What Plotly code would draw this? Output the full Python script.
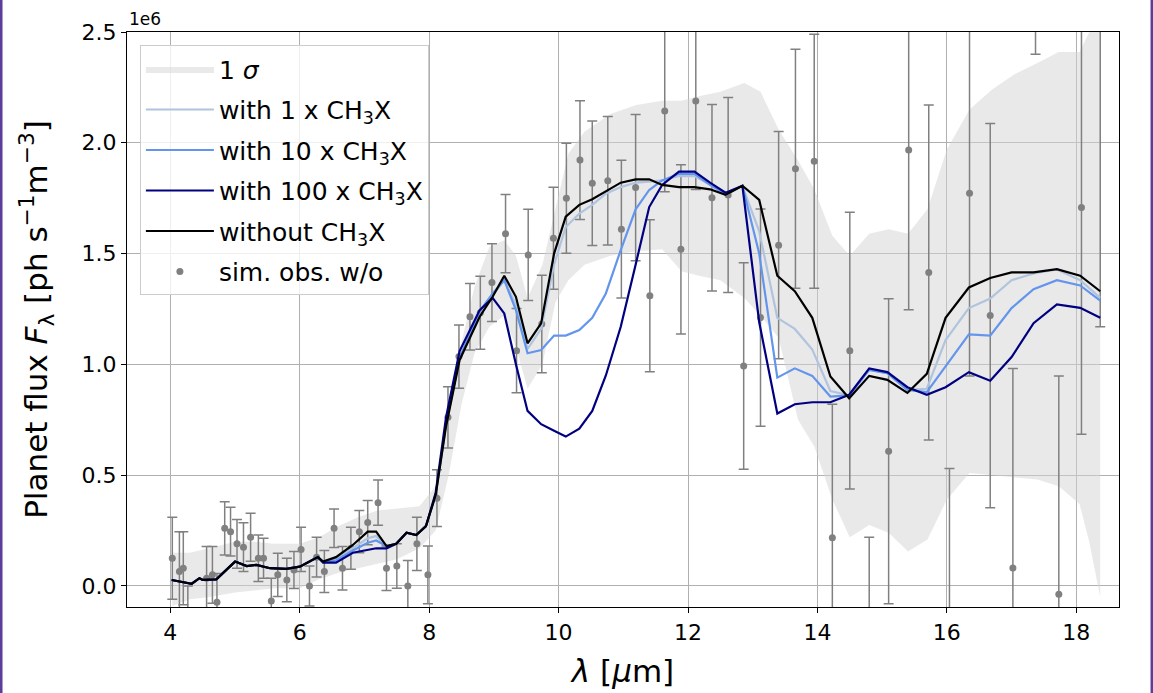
import plotly.graph_objects as go

# ---------------- data (flux in units of 1e6 ph s^-1 m^-3) ----------------
band_x = [4.03, 4.3, 4.6, 5.0, 5.3, 5.6, 6.0, 6.3, 6.6, 6.9, 7.2, 7.5, 7.85, 8.1, 8.3,
          8.5, 8.7, 8.93, 9.16, 9.34, 9.52, 9.75, 9.95, 10.15, 10.4, 10.8, 11.2, 11.6, 11.9, 12.17,
          12.5, 12.87, 13.12, 13.4, 13.7, 13.95, 14.23, 14.5, 14.8, 15.1, 15.4, 15.7, 16.0, 16.35, 16.7,
          17.05, 17.4, 17.73, 18.05, 18.2, 18.37]
band_up = [0.15, 0.15, 0.17, 0.2, 0.2, 0.19, 0.19, 0.22, 0.27, 0.31, 0.34, 0.35, 0.36, 0.45, 0.75,
           1.1, 1.35, 1.53, 1.56, 1.49, 1.30, 1.45, 1.70, 1.95, 2.05, 2.13, 2.17, 2.19, 2.19, 2.21,
           2.23, 2.27, 2.23, 2.06, 1.92, 1.79, 1.58, 1.49, 1.59, 1.61, 1.59, 1.70, 1.97, 2.15, 2.24,
           2.31, 2.36, 2.41, 2.41, 2.5, 2.6]
band_lo = [-0.09, -0.06, -0.05, -0.03, -0.02, -0.01, -0.01, 0.03, 0.06, 0.08, 0.10, 0.12, 0.17, 0.25, 0.5,
           0.82, 1.05, 1.17, 1.22, 1.08, 0.89, 1.0, 1.28, 1.38, 1.45, 1.49, 1.51, 1.52, 1.42, 1.40,
           1.38, 1.30, 1.22, 1.12, 0.75, 0.63, 0.39, 0.22, 0.275, 0.24, 0.155, 0.21, 0.39, 0.51, 0.50,
           0.49, 0.48, 0.45, 0.37, 0.2, -0.05]

x_model = [4.02, 4.15, 4.33, 4.45, 4.50, 4.71, 4.85, 5.00, 5.18, 5.33, 5.54, 5.79, 6.00, 6.15, 6.28,
           6.36, 6.56, 6.82, 7.05, 7.18, 7.34, 7.49, 7.65, 7.80, 7.95,
           8.10, 8.26, 8.47, 8.78, 8.98, 9.16, 9.34, 9.52, 9.73, 9.93,
           10.11, 10.32, 10.52, 10.73, 10.96, 11.19, 11.40, 11.60, 11.86, 12.10,
           12.34, 12.58, 12.84, 13.10, 13.38, 13.65, 13.92, 14.20, 14.49, 14.80,
           15.08, 15.39, 15.69, 15.98, 16.34, 16.67, 17.00, 17.34, 17.70, 18.06, 18.37]

y_short = [0.027, 0.02, 0.01, 0.035, 0.027, 0.03, 0.07, 0.11, 0.09, 0.095, 0.08, 0.077, 0.087, 0.11, 0.13]

y_without = y_short + [0.11, 0.13, 0.185, 0.245, 0.245, 0.18, 0.19, 0.24, 0.23, 0.27,
                       0.41, 0.72, 1.02, 1.215, 1.305, 1.40, 1.305, 1.095, 1.185, 1.50,
                       1.667, 1.72, 1.745, 1.78, 1.82, 1.835, 1.835, 1.81, 1.80, 1.80,
                       1.79, 1.765, 1.806, 1.742, 1.40, 1.33, 1.21, 0.945, 0.847, 0.948,
                       0.93, 0.871, 0.957, 1.21, 1.347, 1.39, 1.415, 1.415, 1.43, 1.40,
                       1.33]
y_1x = y_short + [0.11, 0.125, 0.17, 0.215, 0.225, 0.18, 0.19, 0.24, 0.23, 0.27,
                  0.41, 0.73, 1.03, 1.22, 1.31, 1.38, 1.27, 1.07, 1.16, 1.45,
                  1.62, 1.68, 1.72, 1.77, 1.80, 1.82, 1.825, 1.83, 1.85, 1.85,
                  1.81, 1.765, 1.806, 1.60, 1.21, 1.16, 1.067, 0.88, 0.86, 0.975,
                  0.96, 0.885, 0.89, 1.11, 1.254, 1.297, 1.38, 1.41, 1.428, 1.38,
                  1.30]
y_10x = y_short + [0.11, 0.115, 0.16, 0.195, 0.205, 0.18, 0.19, 0.24, 0.23, 0.27,
                   0.41, 0.73, 1.03, 1.24, 1.32, 1.38, 1.245, 1.05, 1.065, 1.13,
                   1.13, 1.155, 1.21, 1.32, 1.516, 1.70, 1.787, 1.83, 1.86, 1.86,
                   1.81, 1.77, 1.806, 1.50, 0.94, 0.982, 0.948, 0.855, 0.86, 0.975,
                   0.96, 0.885, 0.875, 0.99, 1.135, 1.13, 1.254, 1.339, 1.38, 1.356,
                   1.288]
y_100x = y_short + [0.105, 0.105, 0.15, 0.165, 0.17, 0.17, 0.19, 0.24, 0.23, 0.27,
                    0.42, 0.76, 1.06, 1.245, 1.30, 1.23, 1.0, 0.79, 0.73, 0.70,
                    0.674, 0.71, 0.79, 0.95, 1.17, 1.45, 1.71, 1.81, 1.87, 1.87,
                    1.82, 1.775, 1.806, 1.19, 0.778, 0.82, 0.829, 0.829, 0.863, 0.982,
                    0.965, 0.897, 0.863, 0.897, 0.965, 0.926, 1.033, 1.186, 1.271, 1.255,
                    1.21]

obs_x = [4.03, 4.14, 4.20, 4.27, 4.56, 4.65, 4.72, 4.84, 4.93, 5.03, 5.13, 5.24, 5.36, 5.44,
         5.56, 5.66, 5.80, 5.91, 6.02, 6.15, 6.26, 6.38, 6.53, 6.66, 6.79, 6.92, 7.05, 7.21,
         7.34, 7.50, 7.67, 7.81, 7.98, 8.12, 8.29, 8.46, 8.63, 8.79, 8.97, 9.18, 9.35, 9.53,
         9.74, 9.92, 10.12, 10.33, 10.52, 10.76, 10.97, 11.19, 11.41, 11.64, 11.89, 12.12,
         12.37, 12.62, 12.86, 13.12, 13.40, 13.66, 13.95, 14.23, 14.50, 14.80, 15.10, 15.41,
         15.72, 16.04, 16.35, 16.67, 17.02, 17.37, 17.73, 18.08, 18.37]
obs_y = [0.125, 0.065, 0.08, -0.16, 0.035, 0.05, -0.074, 0.26, 0.245, 0.19, 0.175, 0.22, 0.125, 0.125,
         -0.068, 0.05, 0.027, 0.072, 0.165, 0.0, 0.13, 0.065, 0.26, 0.08, 0.17, 0.245, 0.286, 0.376,
         0.08, 0.09, 0.0, 0.19, 0.05, 0.396, 0.761, 1.035, 1.215, 1.233, 1.369, 1.59, 1.062, 1.494,
         1.182, 1.569, 1.75, 1.922, 1.817, 1.829, 1.61, 1.798, 1.31, 2.143, 1.519, 2.189,
         1.752, 1.764, 0.993, 1.211, 1.538, 1.883, 1.917, 0.217, 1.062, -0.43, 0.608, 1.968,
         1.415, -0.25, 1.772, 1.22, 0.081, 3.33, -0.038, 1.708, 3.4]
obs_err = [0.185, 0.18, 0.165, 0.16, 0.143, 0.128, 0.13, 0.12, 0.11, 0.11, 0.11, 0.108, 0.105, 0.09,
           0.103, 0.098, 0.098, 0.083, 0.1, 0.09, 0.09, 0.095, 0.087, 0.098, 0.095, 0.095, 0.1, 0.102,
           0.1, 0.1, 0.115, 0.12, 0.13, 0.128, 0.138, 0.143, 0.15, 0.165, 0.175, 0.177, 0.19, 0.206,
           0.22, 0.23, 0.248, 0.268, 0.281, 0.29, 0.311, 0.33, 0.343, 0.364, 0.382, 0.40,
           0.421, 0.44, 0.466, 0.49, 0.513, 0.539, 0.573, 0.603, 0.624, 0.65, 0.688, 0.722,
           0.756, 0.78, 0.824, 0.867, 0.90, 0.93, 0.986, 1.023, 2.23]

y_ticks = [0.0, 0.5, 1.0, 1.5, 2.0, 2.5]
y_ticklabels = ["0.0", "0.5", "1.0", "1.5", "2.0", "2.5"]
x_ticks = [4, 6, 8, 10, 12, 14, 16, 18]

FONT = "DejaVu Sans"

fig = go.Figure()

fig.add_trace(go.Scatter(
    x=band_x + band_x[::-1], y=band_up + band_lo[::-1],
    fill="toself", fillcolor="rgba(211,211,211,0.5)", line=dict(width=0),
    mode="lines", name="1 <i>σ</i>", legendrank=1, legendgroup="a", hoverinfo="skip"))

fig.add_trace(go.Scatter(
    x=obs_x, y=obs_y, mode="markers",
    marker=dict(color="#808080", size=7),
    error_y=dict(type="data", array=obs_err, color="#808080", thickness=1.5, width=5),
    name="sim. obs. w/o", legendrank=6, legendgroup="f"))

lines = [
    (y_1x, "#b0c4de", "with 1 x CH<sub>3</sub>X", 2, "b"),
    (y_10x, "#6495ed", "with 10 x CH<sub>3</sub>X", 3, "c"),
    (y_100x, "#000080", "with 100 x CH<sub>3</sub>X", 4, "d"),
    (y_without, "#000000", "without CH<sub>3</sub>X", 5, "e"),
]
for ys, col, nm, rk, grp in lines:
    fig.add_trace(go.Scatter(x=x_model, y=ys, mode="lines",
                             line=dict(color=col, width=2.2),
                             name=nm, legendrank=rk, legendgroup=grp))

fig.update_layout(
    width=1153, height=693,
    margin=dict(l=127, r=34, t=32, b=86),
    paper_bgcolor="white", plot_bgcolor="white",
    font=dict(family=FONT, size=22, color="black"),
    showlegend=True,
    legend=dict(x=0.013, y=0.977, xanchor="left", yanchor="top",
                bgcolor="rgba(255,255,255,0.8)", bordercolor="#cccccc", borderwidth=1,
                font=dict(family=FONT, size=25), tracegroupgap=5, itemwidth=68,
                traceorder="grouped"),
    xaxis=dict(range=[3.33, 18.66], tickvals=x_ticks, showgrid=True, gridcolor="#b0b0b0",
               gridwidth=1, showline=True, linecolor="black", linewidth=1.2, mirror=True,
               ticks="outside", ticklen=5, tickcolor="black", zeroline=False,
               tickfont=dict(size=22),
               title=dict(text="<i>λ</i> [<i>μ</i>m]", font=dict(size=31), standoff=16)),
    yaxis=dict(range=[-0.095, 2.5], tickvals=y_ticks, ticktext=y_ticklabels, showgrid=True,
               gridcolor="#b0b0b0", gridwidth=1, showline=True, linecolor="black", linewidth=1.2,
               mirror=True, ticks="outside", ticklen=5, tickcolor="black", zeroline=False,
               tickfont=dict(size=22),
               title=dict(text="Planet flux <i>F</i><sub>λ</sub> [ph s<sup>−1</sup>m<sup>−3</sup>]",
                          font=dict(size=31), standoff=24)),
    annotations=[dict(text="1e6", xref="paper", yref="paper", x=0, y=1, xanchor="left",
                      yanchor="bottom", yshift=1, showarrow=False, font=dict(size=17))],
    shapes=[
        dict(type="line", xref="paper", yref="paper", x0=-0.127, x1=-0.127, y0=-0.15, y1=1.06,
             line=dict(color="#5c3c9c", width=3)),
        dict(type="line", xref="paper", yref="paper", x0=1.0333, x1=1.0333, y0=-0.15, y1=1.06,
             line=dict(color="#5c3c9c", width=3)),
    ],
)

fig.write_html("out.html")
